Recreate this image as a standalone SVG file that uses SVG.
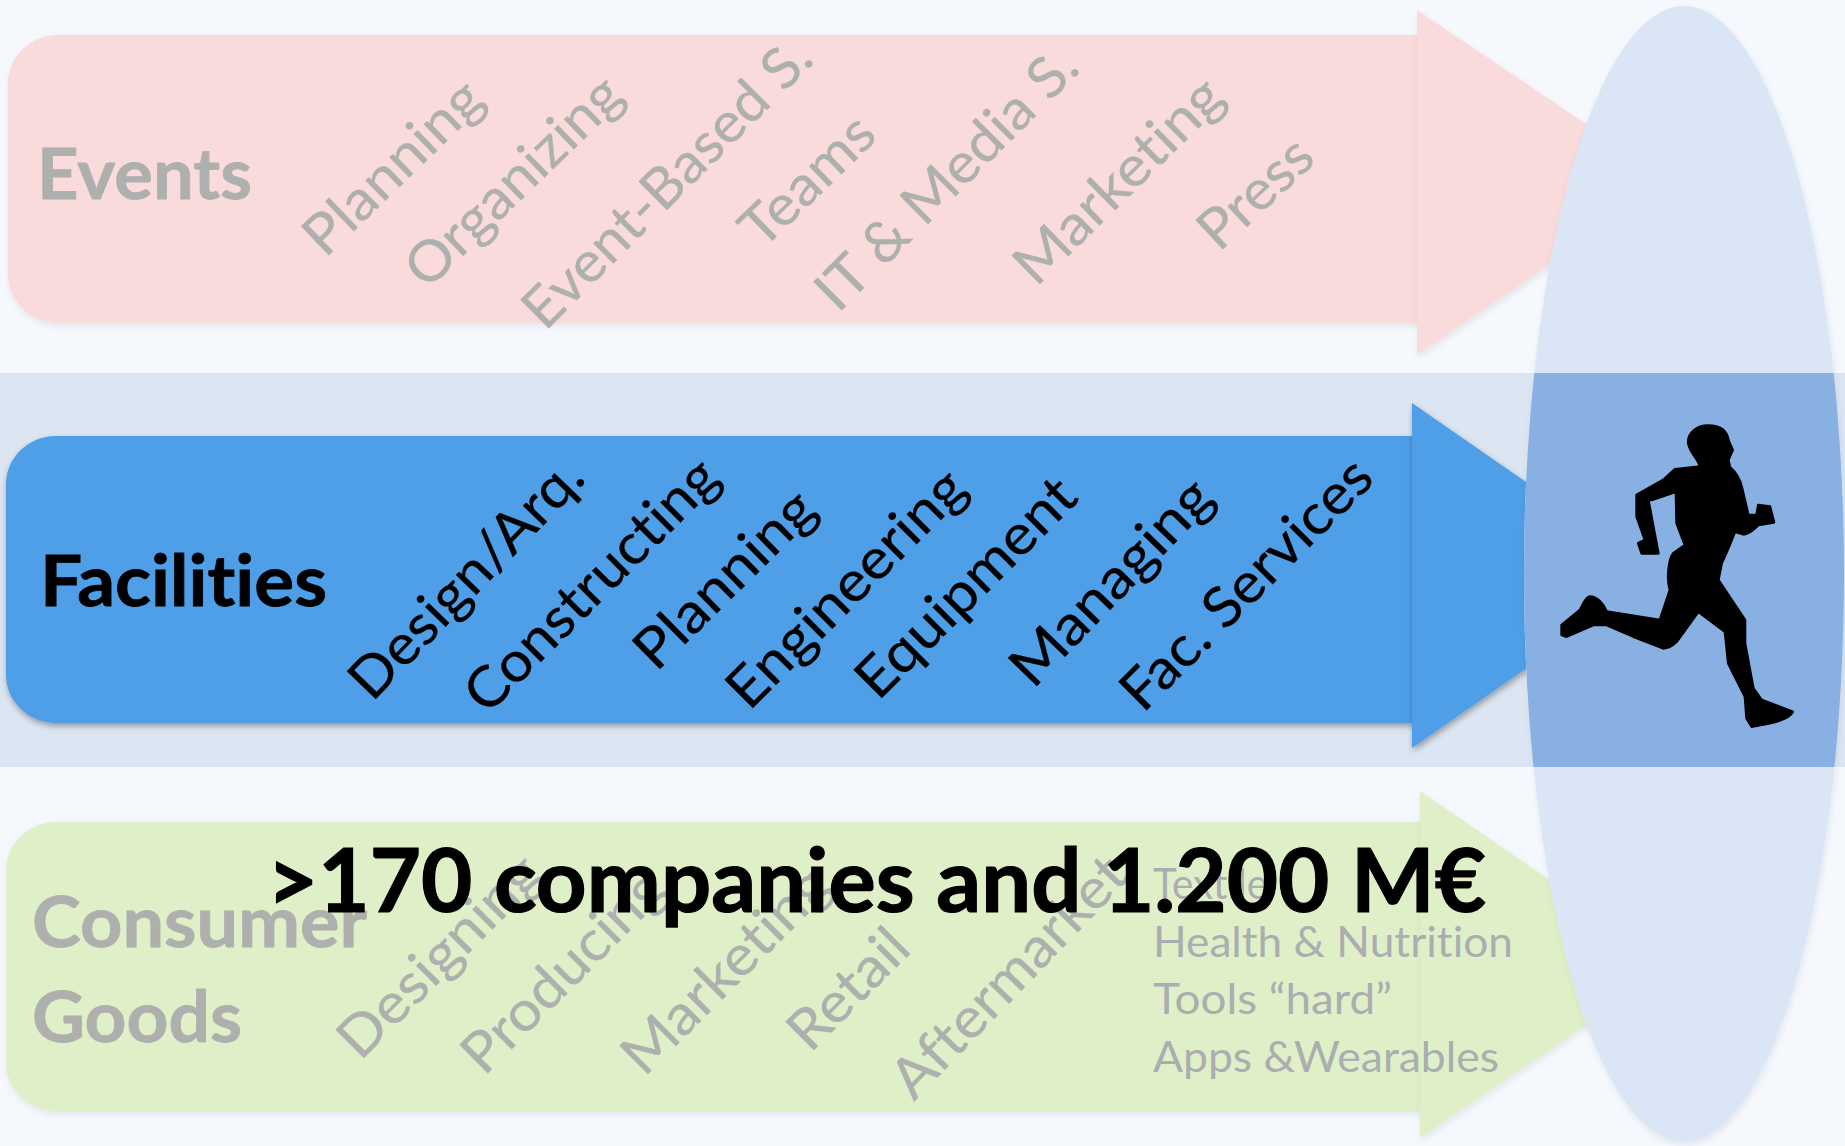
<svg xmlns="http://www.w3.org/2000/svg" width="1845" height="1146" viewBox="0 0 1845 1146">
<defs>
<filter id="sh" x="-5%" y="-5%" width="110%" height="110%"><feDropShadow dx="1" dy="3" stdDeviation="3" flood-color="#000" flood-opacity="0.35"/></filter>
<filter id="shl" x="-5%" y="-5%" width="110%" height="110%"><feDropShadow dx="1" dy="3" stdDeviation="3" flood-color="#000" flood-opacity="0.08"/></filter>
<clipPath id="band"><rect x="0" y="373" width="1845" height="394"/></clipPath>
</defs>
<style>
text{font-family:"Lato","Open Sans","Liberation Sans",sans-serif;font-variant-ligatures:none}
.h{font-weight:700;font-size:70px;stroke-width:.8px}
.g{fill:#aeb0ae;stroke:#aeb0ae}
.k{fill:#000;stroke:#000}
.r{font-size:56px;stroke-width:.3px}
.l{font-size:42px;fill:#abadb0}
.big{font-weight:700;font-size:88px;fill:#000;stroke:#000;stroke-width:1.2px}
</style>
<rect width="1845" height="1146" fill="#f5f8fd"/>
<rect id="band-rect" x="0" y="373" width="1845" height="394" fill="#dce6f2"/>
<g id="events">
<path d="M58,35H1418V323H58C30,323 8,301 8,275V83C8,57 30,35 58,35Z" fill="#fadbdb" filter="url(#shl)"/>
<polygon points="1417,10 1672,182 1417,355" fill="#fadbdb" filter="url(#shl)"/>
<text class="h g" x="37" y="199" textLength="215" lengthAdjust="spacingAndGlyphs">Events</text>
<g class="g">
<text class="r" textLength="225" lengthAdjust="spacingAndGlyphs" transform="translate(325,259) rotate(-44)">Planning</text>
<text class="r" textLength="277" lengthAdjust="spacingAndGlyphs" transform="translate(427,291) rotate(-44)">Organizing</text>
<text class="r" textLength="383" lengthAdjust="spacingAndGlyphs" transform="translate(545,332) rotate(-45)">Event-Based S.</text>
<text class="r" textLength="163" lengthAdjust="spacingAndGlyphs" transform="translate(762,251) rotate(-44)">Teams</text>
<text class="r" textLength="345" lengthAdjust="spacingAndGlyphs" transform="translate(838,314) rotate(-45)">IT &amp; Media S.</text>
<text class="r" textLength="268" lengthAdjust="spacingAndGlyphs" transform="translate(1036,288) rotate(-44.5)">Marketing</text>
<text class="r" textLength="135" lengthAdjust="spacingAndGlyphs" transform="translate(1219,253) rotate(-43)">Press</text>
</g>
</g>
<g id="facilities">
<path d="M56,436H1414V723H56C28,723 6,701 6,675V484C6,458 28,436 56,436Z" fill="#4f9ee8" filter="url(#sh)"/>
<polygon points="1412,403 1660,575 1412,748" fill="#4f9ee8" filter="url(#sh)"/>
<text class="h k" x="40" y="606" textLength="287" lengthAdjust="spacingAndGlyphs">Facilities</text>
<g class="k">
<text class="r" textLength="310" lengthAdjust="spacingAndGlyphs" transform="translate(372,703) rotate(-46)">Design/Arq.</text>
<text class="r" textLength="333" lengthAdjust="spacingAndGlyphs" transform="translate(487,716) rotate(-45)">Constructing</text>
<text class="r" textLength="229" lengthAdjust="spacingAndGlyphs" transform="translate(656,673) rotate(-44.5)">Planning</text>
<text class="r" textLength="312" lengthAdjust="spacingAndGlyphs" transform="translate(749,712) rotate(-45)">Engineering</text>
<text class="r" textLength="286" lengthAdjust="spacingAndGlyphs" transform="translate(878,702) rotate(-45)">Equipment</text>
<text class="r" textLength="264" lengthAdjust="spacingAndGlyphs" transform="translate(1033,690) rotate(-46)">Managing</text>
<text class="r" textLength="330" lengthAdjust="spacingAndGlyphs" transform="translate(1143,714) rotate(-45)">Fac. Services</text>
</g>
</g>
<g id="consumer-goods">
<path d="M56,822H1422V1111H56C28,1111 6,1089 6,1063V870C6,844 28,822 56,822Z" fill="#dff0c8" filter="url(#shl)"/>
<polygon points="1420,791 1674,965 1420,1138" fill="#dff0c8" filter="url(#shl)"/>
<text class="h g" x="32" y="947" textLength="335" lengthAdjust="spacingAndGlyphs">Consumer</text>
<text class="h g" x="32" y="1042" textLength="210" lengthAdjust="spacingAndGlyphs">Goods</text>
<g class="g">
<text class="r" textLength="262" lengthAdjust="spacingAndGlyphs" transform="translate(360,1062) rotate(-45)">Designing</text>
<text class="r" textLength="262" lengthAdjust="spacingAndGlyphs" transform="translate(484,1077) rotate(-45)">Producing</text>
<text class="r" textLength="268" lengthAdjust="spacingAndGlyphs" transform="translate(644,1078) rotate(-45)">Marketing</text>
<text class="r" textLength="146" lengthAdjust="spacingAndGlyphs" transform="translate(810,1054) rotate(-45)">Retail</text>
<text class="r" textLength="312" lengthAdjust="spacingAndGlyphs" transform="translate(914,1102) rotate(-46)">Aftermarket</text>
</g>
<text class="l" x="1153" y="899" textLength="115" lengthAdjust="spacingAndGlyphs">Textile</text>
<text class="l" x="1153" y="957" textLength="360" lengthAdjust="spacingAndGlyphs">Health &amp; Nutrition</text>
<text class="l" x="1153" y="1014" textLength="239" lengthAdjust="spacingAndGlyphs">Tools “hard”</text>
<text class="l" x="1153" y="1072" textLength="346" lengthAdjust="spacingAndGlyphs">Apps &amp;Wearables</text>
</g>
<g id="target">
<ellipse cx="1684" cy="574" rx="160" ry="568" fill="#dae6f6" filter="url(#shl)"/>
<ellipse cx="1684" cy="574" rx="160" ry="568" fill="#89b0e3" clip-path="url(#band)"/>
<path transform="translate(1400,360) scale(0.3333)" fill="#000" stroke="#000" stroke-width="8" stroke-linejoin="round" d="M900,320 C895,295 870,280 865,250 C862,220 890,197 925,197 C960,197 980,210 985,240 L998,270 985,300 990,322 C1010,340 1020,360 1025,380 L1045,465 1070,465 1075,435 1110,440 1122,487 1075,495 C1060,510 1045,523 1030,523 L1005,515 985,565 965,610 955,660 1035,780 1035,850 1060,985 1085,1020 1178,1055 C1170,1075 1130,1085 1110,1090 L1055,1100 1040,1075 1035,1010 985,910 975,815 895,755 830,845 C815,860 800,865 790,865 L700,830 620,795 580,795 500,830 485,825 485,795 540,750 C550,735 555,712 570,710 C590,710 610,730 620,755 L780,780 810,690 C800,660 805,600 820,580 L855,555 830,490 828,395 755,420 745,420 775,580 725,580 715,550 735,540 710,470 710,405 790,360 825,328Z"/>
</g>
<text id="headline" class="big" x="267" y="912" textLength="1219" lengthAdjust="spacingAndGlyphs">&gt;170 companies and 1.200 M€</text>
</svg>
